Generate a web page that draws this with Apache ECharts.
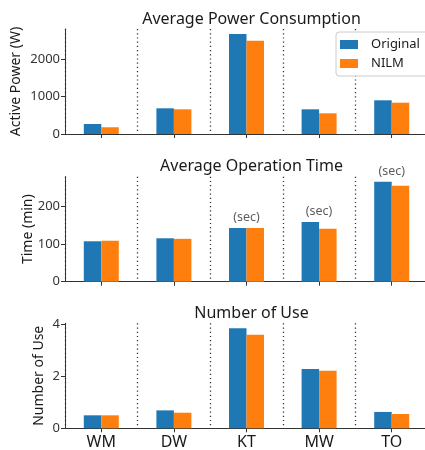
<!DOCTYPE html>
<html>
<head>
<meta charset="utf-8">
<script src="https://cdn.jsdelivr.net/npm/echarts@6/dist/echarts.min.js"></script>
<style>html,body{margin:0;padding:0;background:#fff}#c{width:425px;height:450px}</style>
</head>
<body>
<div id="c"></div>
<script>
const categories = ['WM', 'DW', 'KT', 'MW', 'TO'];
const powerOriginal = [267, 687, 2674, 660, 901];
const powerNILM = [180, 660, 2495, 553, 837];
const timeOriginal = [107.5, 115.5, 143, 159, 266];
const timeNILM = [109, 114, 143, 141, 255];
const useOriginal = [0.50, 0.69, 3.85, 2.28, 0.63];
const useNILM = [0.50, 0.60, 3.60, 2.22, 0.55];
const secNote = [false, false, true, true, true];
const powerTicks = [0, 1000, 2000];
const timeTicks = [0, 100, 200];
const useTicks = [0, 2, 4];
const titles = ['Average Power Consumption', 'Average Operation Time', 'Number of Use'];
const yNames = ['Active Power (W)', 'Time (min)', 'Number of Use'];
const seriesNames = ['Original', 'NILM'];

const BLUE = '#1f77b4', ORANGE = '#ff7f0e';
const FONT = 'Noto Sans';
const AX = '#333';

const panels = [
  {o: powerOriginal, n: powerNILM, ticks: powerTicks},
  {o: timeOriginal, n: timeNILM, ticks: timeTicks},
  {o: useOriginal, n: useNILM, ticks: useTicks}
];
const gridTops = [29, 176.7, 323.3];
const gridH = 105;
const gridLeft = 65, gridW = 363;
const nameGaps = [42, 30, 19];

const grid = [], xAxis = [], yAxis = [], series = [], title = [];
panels.forEach((p, i) => {
  grid.push({left: gridLeft, top: gridTops[i], width: gridW, height: gridH,
    containLabel: false, outerBoundsMode: 'none'});
  title.push({text: titles[i], left: gridLeft + gridW / 2, top: gridTops[i] - 23, textAlign: 'center',
    textStyle: {fontFamily: FONT, fontSize: 16, fontWeight: 'normal', color: '#1a1a1a'}});
  xAxis.push({type: 'category', gridIndex: i, data: categories, boundaryGap: true,
    axisLine: {lineStyle: {color: AX, width: 1}},
    axisTick: {show: true, alignWithLabel: true, length: 4, lineStyle: {color: AX}},
    axisLabel: {show: i === 2, fontFamily: FONT, fontSize: 16, color: '#1a1a1a', margin: 6},
    splitLine: {show: true, lineStyle: {color: '#333', type: [1.2, 3], width: 1.3}}});
  const mx = Math.max(...p.o, ...p.n) * 1.05;
  yAxis.push({type: 'value', gridIndex: i, min: 0, max: mx,
    name: yNames[i], nameLocation: 'middle', nameGap: nameGaps[i], nameRotate: 90,
    nameMoveOverlap: false,
    nameTextStyle: {fontFamily: FONT, fontSize: 14, color: '#1a1a1a'},
    axisLine: {show: true, lineStyle: {color: AX, width: 1}},
    axisTick: {show: true, length: 4, customValues: p.ticks, lineStyle: {color: AX}},
    axisLabel: {customValues: p.ticks, formatter: v => String(v), fontFamily: FONT, fontSize: 13, color: '#333', margin: 5},
    splitLine: {show: false}});
  series.push({name: seriesNames[0], type: 'bar', xAxisIndex: i, yAxisIndex: i, data: p.o,
    barWidth: 17.5, barGap: '0%', itemStyle: {color: BLUE}});
  series.push({name: seriesNames[1], type: 'bar', xAxisIndex: i, yAxisIndex: i, data: p.n,
    barWidth: 17.5, barGap: '0%', itemStyle: {color: ORANGE}});
});
// "(sec)" annotations on Average Operation Time panel
series.push({name: 'sec', type: 'scatter', xAxisIndex: 1, yAxisIndex: 1, symbolSize: 0, clip: false,
  data: categories.map((c, k) => secNote[k] ? Math.max(timeOriginal[k], timeNILM[k]) : null),
  label: {show: true, position: 'top', distance: 4, formatter: '(sec)', fontFamily: FONT, fontSize: 12.5, color: '#333'},
  z: 5});

const chart = echarts.init(document.getElementById('c'), null, {renderer: 'canvas'});
chart.setOption({
  animation: false,
  backgroundColor: '#fff',
  title: title,
  legend: {data: seriesNames, left: 336, top: 32, orient: 'vertical',
    itemWidth: 18, itemHeight: 9, itemGap: 6, padding: [6, 8, 6, 4],
    backgroundColor: '#fff', borderColor: '#ccc', borderWidth: 1, borderRadius: 3,
    icon: 'rect',
    textStyle: {fontFamily: FONT, fontSize: 13, color: '#1a1a1a', padding: [0, 0, 0, 8]}},
  grid: grid, xAxis: xAxis, yAxis: yAxis, series: series
});
</script>
</body>
</html>
